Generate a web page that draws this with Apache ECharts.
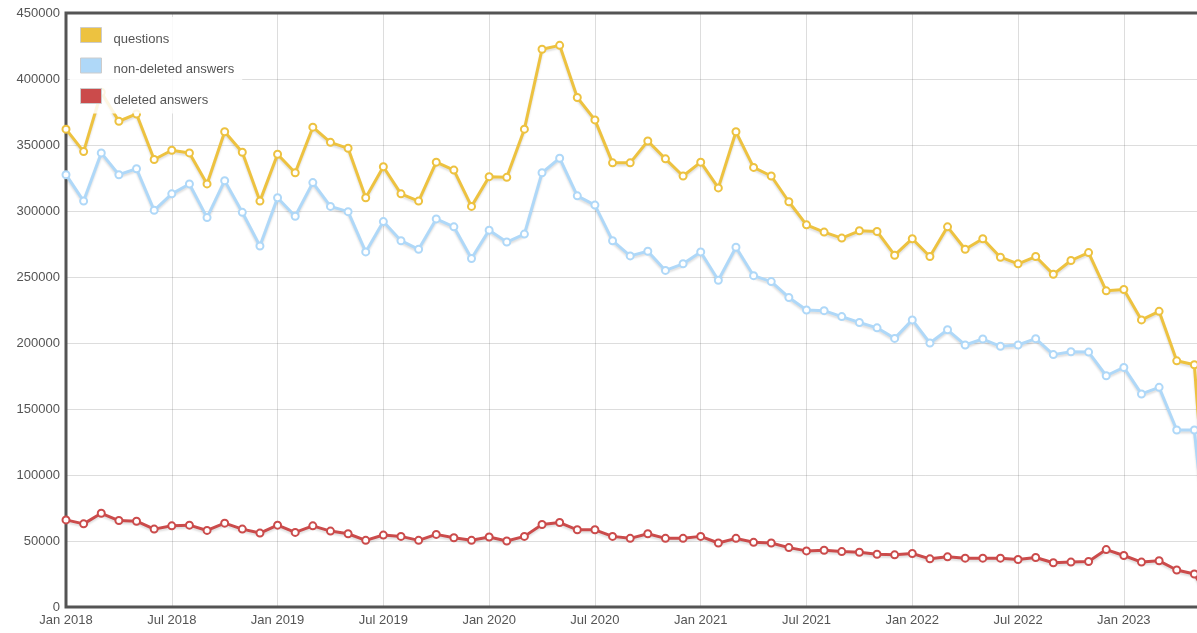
<!DOCTYPE html>
<html>
<head>
<meta charset="utf-8">
<script src="https://cdn.jsdelivr.net/npm/echarts@6/dist/echarts.min.js"></script>
<style>
html,body{margin:0;padding:0;background:#fff;overflow:hidden;width:1197px;height:633px;}
#chart{width:1216px;height:633px;}
</style>
</head>
<body>
<div id="chart"></div>
<script>
// Monthly categories Jan 2018 .. Jun 2023
var monthNames = ['Jan','Feb','Mar','Apr','May','Jun','Jul','Aug','Sep','Oct','Nov','Dec'];
var categories = [];
for (var y = 2018; y <= 2023; y++) {
  for (var m = 0; m < 12; m++) {
    if (y === 2023 && m > 5) break;
    categories.push(monthNames[m] + ' ' + y);
  }
}

var questions = [
  362000, 345000, 390000, 368000, 373500, 339000, 346000, 344000, 320500, 360000, 344500, 307500,
  343000, 329000, 363500, 352000, 347500, 310000, 333500, 313000, 307500, 337000, 331000, 303500,
  326000, 325500, 362000, 422500, 425500, 386000, 369000, 336500, 336500, 353000, 339500, 326500,
  337000, 317500, 360000, 333000, 326500, 307000, 289500, 284000, 279500, 285000, 284500, 266500,
  279000, 265500, 288000, 271000, 279000, 265000, 260000, 265500, 252000, 262500, 268500, 239500,
  240500, 217500, 224000, 186500, 183500, 5000
];

var nonDeletedAnswers = [
  327500, 307500, 344000, 327500, 332000, 300500, 313000, 320500, 295000, 323000, 299000, 273500,
  310000, 296000, 321500, 303500, 299500, 269000, 292000, 277500, 271000, 294000, 288000, 264000,
  285500, 276500, 282500, 329000, 340000, 311500, 304500, 277500, 266000, 269500, 255000, 260000,
  269000, 247500, 272500, 251000, 246500, 234500, 225000, 224500, 220000, 215500, 211500, 203500,
  217500, 200000, 210000, 198500, 203000, 197500, 198500, 203300, 191200, 193400, 193100, 175200,
  181500, 161400, 166400, 134100, 134100, 3000
];

var deletedAnswers = [
  66000, 63000, 71000, 65500, 65000, 59000, 61500, 62000, 58000, 63500, 59000, 56000,
  62000, 56500, 61500, 57500, 55500, 50500, 54500, 53500, 50500, 55000, 52500, 50500,
  53000, 50000, 53500, 62500, 64000, 58500, 58500, 53500, 52000, 55500, 52000, 52000,
  53500, 48500, 52000, 49000, 48500, 45000, 42500, 43000, 42000, 41500, 40000, 39500,
  40500, 36500, 38000, 37000, 37000, 37000, 36000, 37500, 33500, 34000, 34500, 43500,
  39000, 34000, 35000, 28000, 25000, 2500
];

var seriesNames = ['questions', 'non-deleted answers', 'deleted answers'];
var seriesColors = ['#edc240', '#afd8f8', '#cb4b4b'];
var seriesData = [questions, nonDeletedAnswers, deletedAnswers];

var chart = echarts.init(document.getElementById('chart'), null, {renderer: 'canvas'});

var series = seriesNames.map(function (name, i) {
  return {
    name: name,
    type: 'line',
    data: seriesData[i],
    symbol: 'circle',
    symbolSize: 7,
    showAllSymbol: true,
    clip: true,
    z: 2 + i,
    lineStyle: {
      color: seriesColors[i],
      width: 3,
      shadowColor: 'rgba(0,0,0,0.13)',
      shadowBlur: 2,
      shadowOffsetY: 2
    },
    itemStyle: {
      color: '#ffffff',
      borderColor: seriesColors[i],
      borderWidth: 2
    },
    emphasis: {disabled: true}
  };
});

var option = {
  animation: false,
  textStyle: {fontFamily: '"Liberation Sans", Arial, sans-serif'},
  grid: {
    left: 66,
    top: 13,
    bottom: 26,
    right: 4,
    show: true,
    borderColor: '#545454',
    borderWidth: 3,
    backgroundColor: 'transparent'
  },
  legend: {
    orient: 'vertical',
    left: 70,
    top: 17,
    padding: [10, 8, 7, 10],
    width: 160,
    itemWidth: 21,
    itemHeight: 15,
    itemGap: 12,
    icon: 'rect',
    backgroundColor: 'rgba(255,255,255,0.85)',
    selectedMode: false,
    itemStyle: {borderColor: '#cccccc', borderWidth: 1},
    formatter: '{a|{name}}',
    textStyle: {
      color: '#545454',
      fontSize: 13,
      fontFamily: '"Liberation Sans", Arial, sans-serif',
      rich: {
        a: {
          color: '#545454',
          fontSize: 13,
          fontFamily: '"Liberation Sans", Arial, sans-serif',
          padding: [8, 0, 0, 7]
        }
      }
    },
    data: seriesNames.map(function (n, i) {
      return {name: n, itemStyle: {color: seriesColors[i], borderColor: '#cccccc', borderWidth: 1}};
    })
  },
  xAxis: {
    type: 'category',
    data: categories,
    boundaryGap: false,
    axisLine: {show: false},
    axisTick: {show: false, interval: 5},
    axisLabel: {
      interval: 5,
      color: '#545454',
      fontSize: 13,
      margin: 7,
      fontFamily: '"Liberation Sans", Arial, sans-serif'
    },
    splitLine: {
      show: true,
      interval: 5,
      lineStyle: {color: 'rgba(84,84,84,0.2)', width: 1}
    }
  },
  yAxis: {
    type: 'value',
    min: 0,
    max: 450000,
    interval: 50000,
    axisLine: {show: false},
    axisTick: {show: false},
    axisLabel: {
      color: '#545454',
      fontSize: 13,
      margin: 6,
      fontFamily: '"Liberation Sans", Arial, sans-serif',
      formatter: function (v) { return String(v); }
    },
    splitLine: {
      show: true,
      lineStyle: {color: 'rgba(84,84,84,0.2)', width: 1}
    }
  },
  series: series
};

chart.setOption(option);
</script>
</body>
</html>
